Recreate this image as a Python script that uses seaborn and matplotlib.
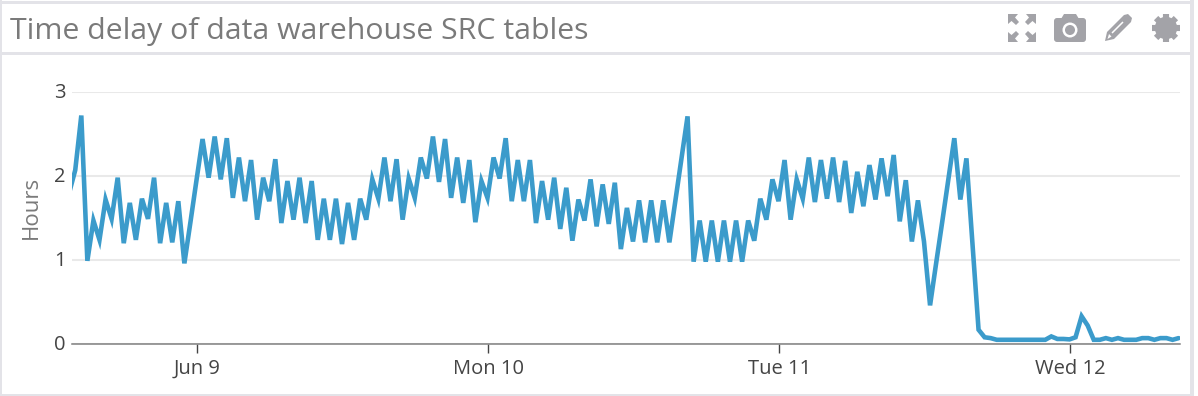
import numpy as np
import pandas as pd
import matplotlib
matplotlib.use("Agg")
import matplotlib.pyplot as plt
import matplotlib.dates as mdates
import matplotlib.transforms as mtransforms
from matplotlib.patches import Rectangle, Circle, Polygon, FancyBboxPatch
import seaborn as sns

TITLE = "Time delay of data warehouse SRC tables"
Y_LABEL = "Hours"
Y_TICKS = [0, 1, 2, 3]
TICK_DATES = ["2019-06-09", "2019-06-10", "2019-06-11", "2019-06-12"]
TICK_LABELS = ["Jun 9", "Mon 10", "Tue 11", "Wed 12"]
START = "2019-06-08 13:26"

hours_jun8_9 = [1.8, 2.07, 2.72, 0.99, 1.47, 1.24, 1.72, 1.49, 1.98, 1.2, 1.68, 1.24, 1.73, 1.49,
                1.98, 1.2, 1.68, 1.21, 1.7, 0.96, 1.45, 1.95, 2.44, 1.98, 2.47, 1.96, 2.45, 1.74,
                2.22, 1.7, 2.19, 1.48, 1.98, 1.7, 2.2, 1.44, 1.94, 1.48, 1.98, 1.44, 1.94, 1.24,
                1.73, 1.24, 1.73, 1.19, 1.68, 1.24, 1.73, 1.48, 1.96, 1.73, 2.22, 1.7, 2.2]
hours_jun10 = [1.48, 1.97, 1.74, 2.22, 1.97, 2.47, 1.93, 2.44, 1.74, 2.22, 1.68, 2.19, 1.45, 1.94,
               1.74, 2.22, 1.97, 2.45, 1.7, 2.19, 1.7, 2.19, 1.44, 1.94, 1.48, 1.98, 1.37, 1.86,
               1.23, 1.72, 1.47, 1.96, 1.4, 1.9, 1.43, 1.92, 1.13, 1.62, 1.22, 1.71, 1.21, 1.71,
               1.21, 1.71, 1.21, 1.71, 2.21, 2.71, 0.98, 1.47, 0.98, 1.47, 0.98, 1.47, 0.98, 1.47,
               0.98, 1.47, 1.23, 1.73, 1.48, 1.96, 1.7, 2.19, 1.48, 1.96]
hours_jun11_12 = [1.73, 2.22, 1.69, 2.19, 1.73, 2.22, 1.69, 2.18, 1.56, 2.05, 1.64, 2.13, 1.72, 2.21,
                  1.76, 2.25, 1.46, 1.95, 1.22, 1.71, 1.22, 0.46, 0.96, 1.45, 1.95, 2.45, 1.72, 2.21,
                  1.19, 0.17, 0.08, 0.07, 0.05, 0.05, 0.05, 0.05, 0.05, 0.05, 0.05, 0.05, 0.05, 0.09,
                  0.06, 0.06, 0.055, 0.08, 0.33, 0.22, 0.05, 0.05, 0.07, 0.05, 0.07, 0.05, 0.05, 0.05,
                  0.07, 0.07, 0.05, 0.07, 0.07, 0.05, 0.07]

hours = hours_jun8_9 + hours_jun10 + hours_jun11_12
df = pd.DataFrame({"time": pd.date_range(START, periods=len(hours), freq="30min"), "hours": hours})

W, H = 1198, 396
sns.set_theme(style="white")
plt.rcParams["font.family"] = ["Open Sans", "DejaVu Sans"]
fig = plt.figure(figsize=(W / 100, H / 100), dpi=100, facecolor="white")

# pixel-coordinate overlay for the panel chrome
chrome = fig.add_axes([0, 0, 1, 1], zorder=0)
chrome.set_xlim(0, W)
chrome.set_ylim(H, 0)
chrome.axis("off")
FRAME = "#e3e3e8"
ICON = "#a3a3a8"
chrome.add_patch(Rectangle((0, 0), 2, 396, color=FRAME, lw=0))
chrome.add_patch(Rectangle((0, 1), 1194, 3, color=FRAME, lw=0))
chrome.add_patch(Rectangle((1190, 0), 4, 396, color=FRAME, lw=0))
chrome.add_patch(Rectangle((0, 52), 1192, 3, color=FRAME, lw=0))
chrome.add_patch(Rectangle((0, 394), 1194, 2, color=FRAME, lw=0))
chrome.text(10.5, 39, TITLE, fontsize=21.75, color="#7a7a7a", va="baseline", ha="left")

# expand icon
for cx, cy, sx, sy in [(1008, 14, 1, 1), (1036, 14, -1, 1), (1008, 42, 1, -1), (1036, 42, -1, -1)]:
    chrome.add_patch(Polygon([(cx, cy), (cx + 10 * sx, cy), (cx + 7 * sx, cy + 3.5 * sy), (cx + 11 * sx, cy + 8 * sy),
                              (cx + 8 * sx, cy + 11 * sy), (cx + 3.5 * sx, cy + 7 * sy), (cx, cy + 10 * sy)],
                             color=ICON, lw=0))
# camera icon
chrome.add_patch(FancyBboxPatch((1056, 20), 28, 20, boxstyle="round,pad=2,rounding_size=3", color=ICON, lw=0))
chrome.add_patch(Polygon([(1061, 19), (1064, 14), (1076, 14), (1079, 19)], color=ICON, lw=0))
chrome.add_patch(Circle((1070, 30), 7.5, color="white", lw=0))
chrome.add_patch(Circle((1070, 30), 5, color=ICON, lw=0))
# pencil icon
chrome.add_patch(Polygon([(1105, 41), (1107, 32), (1124, 15), (1128, 14), (1132, 18), (1131, 22), (1114, 39)], color=ICON, lw=0))
chrome.add_patch(Polygon([(1107.5, 39), (1109, 34), (1111.5, 36.5)], color="white", lw=0))
chrome.plot([1112, 1123], [33, 22], color="white", lw=1.1, solid_capstyle="butt")
# gear icon
gear_angles = [0, 45, 90, 135]
for a in gear_angles:
    dx, dy = 14.0 * np.cos(np.radians(a)), 14.0 * np.sin(np.radians(a))
    chrome.plot([1166 - dx, 1166 + dx], [28 - dy, 28 + dy], color=ICON, lw=4.4, solid_capstyle="butt")
chrome.add_patch(Circle((1166, 28), 11.2, color=ICON, lw=0))
chrome.add_patch(Circle((1166, 28), 4.8, color="white", lw=0))

# plot area: x 72..1180, y 92 (value 3) .. 344 (value 0)
ax = fig.add_axes([72 / W, 1 - 344 / H, (1180 - 72) / W, (344 - 92) / H], zorder=1)
ax.patch.set_alpha(0)
sns.lineplot(data=df, x="time", y="hours", ax=ax, color="#3b9bcb", lw=3.3, errorbar=None, legend=False,
             solid_joinstyle="miter", zorder=3)

origin = pd.Timestamp(TICK_DATES[0])
px_per_day = 291.0
ax.set_xlim(mdates.date2num(origin) + (72 - 197.3) / px_per_day,
            mdates.date2num(origin) + (1180 - 197.3) / px_per_day)
ax.set_ylim(0, 3)
ax.set_xticks(pd.to_datetime(TICK_DATES))
ax.set_xticklabels(TICK_LABELS)
ax.set_yticks(Y_TICKS)
ax.set_xlabel("")
ax.set_ylabel(Y_LABEL, fontsize=16, color="#7a7a7a")
ax.yaxis.set_label_coords((42 - 72) / (1180 - 72), 0.543)
ax.grid(axis="y", color="#e9e9e9", lw=1.5, zorder=0)
ax.grid(axis="x", visible=False)
ax.set_axisbelow(True)
for s in ["top", "left", "right"]:
    ax.spines[s].set_visible(False)
ax.spines["bottom"].set_color("#808080")
ax.spines["bottom"].set_linewidth(1.1)
ax.tick_params(axis="x", bottom=True, length=6.5, width=1, color="#444444", labelsize=14.5, labelcolor="#444444", pad=4)
ax.tick_params(axis="y", left=False, length=0, labelsize=14.5, labelcolor="#444444", pad=4.5)
up = mtransforms.ScaledTranslation(0, 2 / 100, fig.dpi_scale_trans)
for lab in ax.get_yticklabels():
    lab.set_transform(lab.get_transform() + up)

fig.savefig("out.png", dpi=100)
